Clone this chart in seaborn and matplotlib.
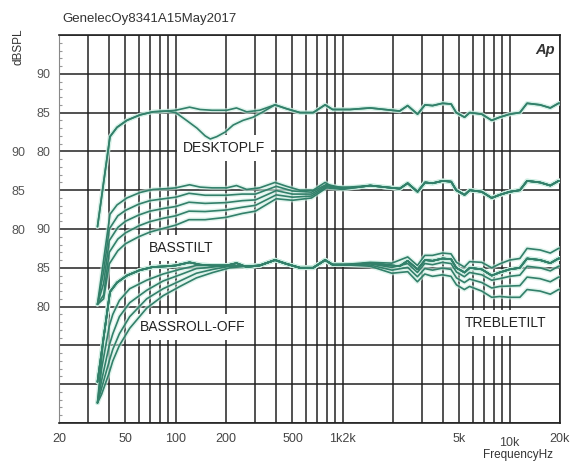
import numpy as np
import pandas as pd
import matplotlib
matplotlib.use("Agg")
import matplotlib.pyplot as plt
import seaborn as sns
from matplotlib.ticker import FixedLocator, NullLocator, MultipleLocator

sns.set_theme(style="white")
plt.rcParams["font.family"] = ["Liberation Sans", "DejaVu Sans"]

# ---------------- data ----------------
# flat (reference) response, dB SPL
FLAT_F = [34, 37, 40.4, 44.5, 51, 61, 73, 88, 100, 121, 140, 165, 202, 231, 266, 318,
          393, 461, 554, 665, 784, 870, 1106, 1461, 1971, 2193, 2447, 2806, 3110, 3452,
          3967, 4461, 4783, 5364, 5765, 6800, 7800, 8700, 10000, 11500, 12700, 15200,
          17500, 19600, 20000]
FLAT_DB = [70.3, 76.0, 81.9, 83.1, 84.0, 84.7, 85.1, 85.2, 85.3, 85.7, 85.4, 85.3, 85.3,
           85.6, 85.1, 85.3, 86.0, 85.5, 85.0, 85.0, 86.0, 85.4, 85.4, 85.6, 85.3, 85.2,
           85.9, 84.8, 86.0, 85.9, 86.2, 86.1, 85.0, 84.4, 85.0, 84.8, 84.0, 84.4, 84.8,
           85.0, 86.2, 86.0, 85.6, 86.2, 86.2]

# desktop LF notch
DESK_F = [100, 116, 134, 150, 161, 176, 198, 221, 253, 290, 327]
DESK_DB = [85.0, 84.0, 83.0, 82.0, 81.6, 81.9, 82.5, 83.4, 84.0, 84.4, 85.0]

# bass tilt
TILT_F = [34, 37, 40, 45, 50, 60, 70, 85, 100, 120, 150, 200, 250, 300, 400, 500, 650,
          800, 1000, 1250]
TILT_1 = [70.3, 74.5, 80.0, 81.7, 82.4, 83.2, 83.65, 83.9, 84.1, 84.6, 84.35, 84.35, 84.5,
          84.5, 85.5, 84.9, 84.75, 85.75, 85.3, 85.4]
TILT_2 = [70.3, 73.0, 78.5, 80.2, 81.0, 81.8, 82.3, 82.65, 82.9, 83.45, 83.3, 83.4, 83.65,
          83.75, 84.95, 84.5, 84.5, 85.6, 85.25, 85.4]
TILT_3 = [70.3, 71.5, 77.0, 78.7, 79.5, 80.4, 80.95, 81.4, 81.7, 82.3, 82.25, 82.45, 82.8,
          83.05, 84.4, 84.1, 84.25, 85.45, 85.2, 85.4]
TILT_4 = [70.3, 71.0, 75.5, 77.2, 78.1, 79.0, 79.6, 80.1, 80.5, 81.2, 81.2, 81.5, 82.0,
          82.3, 83.9, 83.7, 84.0, 85.3, 85.1, 85.4]

# bass roll-off
RO_F = [34, 36, 40, 42, 46, 53, 67, 84, 106, 133, 167, 211, 266]
RO_0 = [67.6]
RO_1 = [67.6, 72.0, 77.5, 79.0, 80.8, 82.3, 83.4, 84.2, 84.8, 85.3, 85.3, 85.3, 85.2]
RO_2 = [67.6, 70.5, 75.0, 76.5, 78.7, 80.5, 82.1, 83.3, 84.1, 84.9, 85.1, 85.3, 85.2]
RO_3 = [67.6, 69.5, 73.0, 74.5, 76.5, 78.7, 81.0, 82.3, 83.3, 84.3, 84.8, 85.2, 85.2]
RO_4 = [67.6, 68.7, 71.5, 73.0, 75.0, 77.2, 79.8, 81.4, 82.6, 83.7, 84.4, 85.0, 85.2]

# treble tilt
TT_F = [1000, 1460, 1970, 2450, 2800, 3100, 3450, 3950, 4450, 4800, 5350, 5750, 6800,
        7800, 8700, 10000, 11500, 12700, 15200, 17500, 19600, 20000]
TT_1 = [85.4, 85.7, 85.6, 86.4, 85.3, 86.6, 86.6, 86.9, 86.8, 85.7, 85.1, 85.8, 85.7, 85.0,
        85.5, 86.0, 86.2, 87.5, 87.3, 86.9, 87.5, 87.5]
TT_2 = [85.4, 85.5, 85.05, 85.55, 84.4, 85.55, 85.4, 85.7, 85.55, 84.45, 83.85, 84.4, 84.1,
        83.4, 83.6, 83.9, 84.05, 85.2, 85.0, 84.6, 85.2, 85.2]
TT_3 = [85.4, 85.35, 84.7, 85.05, 83.85, 84.9, 84.7, 84.95, 84.8, 83.7, 83.1, 83.55, 83.1,
        82.4, 82.6, 82.65, 82.7, 83.8, 83.6, 83.2, 83.8, 83.8]
TT_4 = [85.4, 85.2, 84.3, 84.5, 83.2, 84.2, 83.9, 84.1, 83.9, 82.8, 82.2, 82.6, 82.0,
        81.2, 81.3, 81.2, 81.2, 82.2, 82.0, 81.6, 82.2, 82.2]

X_TICKS = [20, 30, 40, 50, 60, 70, 80, 90, 100, 200, 300, 400, 500, 600, 700, 800, 900,
           1000, 2000, 3000, 4000, 5000, 6000, 7000, 8000, 9000, 10000, 20000]
X_LABELS = {20: "20", 50: "50", 100: "100", 200: "200", 500: "500", 1000: "1k2k",
            5000: "5k", 10000: "10k", 20000: "20k"}
Y_GRID = [45, 50, 55, 60, 65, 70, 75, 80, 85, 90, 95]
Y_LABELS = {90: "90", 85: "85", 80: "80", 70: "90", 65: "85", 60: "80"}
MID_TICKS = [90, 85, 80]

TITLE = "GenelecOy8341A15May2017"


def with_flat(seg_f, seg_v):
    lo = [(f, v) for f, v in zip(FLAT_F, FLAT_DB) if f < seg_f[0]]
    hi = [(f, v) for f, v in zip(FLAT_F, FLAT_DB) if f > seg_f[-1]]
    pts = lo + list(zip(seg_f, seg_v)) + hi
    return [p[0] for p in pts], [p[1] for p in pts]


curves = {
    "top": {"flat": (FLAT_F, FLAT_DB), "desk": with_flat(DESK_F, DESK_DB)},
    "mid": {"flat": (FLAT_F, FLAT_DB),
            "t1": with_flat(TILT_F, TILT_1), "t2": with_flat(TILT_F, TILT_2),
            "t3": with_flat(TILT_F, TILT_3), "t4": with_flat(TILT_F, TILT_4)},
    "bot": {"flat": with_flat(RO_F[:1], RO_0),
            "r1": with_flat(RO_F, RO_1), "r2": with_flat(RO_F, RO_2),
            "r3": with_flat(RO_F, RO_3), "r4": with_flat(RO_F, RO_4),
            "tt1": with_flat(TT_F, TT_1), "tt2": with_flat(TT_F, TT_2),
            "tt3": with_flat(TT_F, TT_3), "tt4": with_flat(TT_F, TT_4)},
}
rows = []
for g, cs in curves.items():
    for name, (fs, vs) in cs.items():
        for f, v in zip(fs, vs):
            rows.append((g, g + name, f, v))
df = pd.DataFrame(rows, columns=["group", "curve", "freq", "db"])

# ---------------- figure ----------------
W, H = 573, 465
fig = plt.figure(figsize=(W / 100, H / 100), dpi=100)
L, R, T, B = 59, 560, 35, 423
rect = [L / W, 1 - B / H, (R - L) / W, (B - T) / H]

GRID_C = "#222222"
LINE_C = "#32806a"
GLOW_C = "#cdeee2"
TXT_C = "#333333"

ax = fig.add_axes(rect)
ax.set_xscale("log")
ax.set_xlim(20, 20000)
ax.set_ylim(45, 95)
ax.xaxis.set_major_locator(FixedLocator(X_TICKS))
ax.xaxis.set_minor_locator(NullLocator())
ax.set_xticklabels([X_LABELS.get(t, "") for t in X_TICKS])
ax.yaxis.set_major_locator(FixedLocator(Y_GRID))
ax.yaxis.set_minor_locator(MultipleLocator(1))
ax.set_yticklabels([Y_LABELS.get(t, "") for t in Y_GRID])
ax.grid(True, which="major", color=GRID_C, lw=1.1)
ax.set_axisbelow(True)
ax.tick_params(axis="x", which="major", length=0, pad=7, labelsize=9, labelcolor="#444444")
ax.tick_params(axis="y", which="major", length=0, pad=6.5, labelsize=9, labelcolor="#555555")
ax.tick_params(axis="y", which="minor", left=True, length=2.5, width=0.8, color="#999999",
               direction="in")
for s in ["top", "right", "bottom"]:
    ax.spines[s].set_color(GRID_C)
    ax.spines[s].set_linewidth(1.2)
ax.spines["left"].set_color("#888888")
ax.spines["left"].set_linewidth(0.8)
for lab in ax.get_xticklabels():
    if lab.get_text() == "10k":
        lab.set_y(-0.01)

limits = {"top": (45, 95), "mid": (55, 105), "bot": (65, 115)}
axes = {}
for g, (lo, hi) in limits.items():
    a = fig.add_axes(rect)
    a.set_facecolor("none")
    a.set_xscale("log")
    sub = df[df.group == g]
    sns.lineplot(data=sub, x="freq", y="db", units="curve", estimator=None, sort=False,
                 color=GLOW_C, lw=3.2, alpha=0.6, ax=a, legend=False)
    sns.lineplot(data=sub, x="freq", y="db", units="curve", estimator=None, sort=False,
                 color=LINE_C, lw=1.2, ax=a, legend=False)
    a.set_xlim(20, 20000)
    a.set_ylim(lo, hi)
    a.set_xlabel("")
    a.set_ylabel("")
    for s in a.spines.values():
        s.set_visible(False)
    a.tick_params(axis="x", which="both", bottom=False, labelbottom=False)
    a.xaxis.set_minor_locator(NullLocator())
    if g == "mid":
        a.yaxis.set_major_locator(FixedLocator(MID_TICKS))
        a.yaxis.set_minor_locator(NullLocator())
        a.set_yticklabels([str(t) for t in MID_TICKS])
        a.tick_params(axis="y", length=0, pad=24.5, labelsize=9, labelcolor="#555555")
    else:
        a.set_yticks([])
    a.grid(False)
    axes[g] = a

box = dict(facecolor="white", edgecolor="none", boxstyle="square,pad=0.4")
for txt, px, py in [("DESKTOPLF", 224, 148), ("BASSTILT", 181, 248),
                    ("BASSROLL-OFF", 193, 327), ("TREBLETILT", 506, 323)]:
    ax.text((px - L) / (R - L), (B - py) / (B - T), txt, transform=ax.transAxes,
            ha="center", va="center", fontsize=10, color="#222222", bbox=box, zorder=3)

fig.text(62 / W, 1 - 19 / H, TITLE, ha="left", va="center", fontsize=9.5, color=TXT_C)
fig.text(19 / W, 1 - 47 / H, "dBSPL", rotation=90, ha="center", va="center",
         fontsize=8.5, color=TXT_C)
fig.text(553 / W, 1 - 455 / H, "FrequencyHz", ha="right", va="center", fontsize=8.5,
         color=TXT_C)
fig.text(545 / W, 1 - 50 / H, "Ap", ha="center", va="center", fontsize=10.5,
         fontweight="bold", style="italic", color="#333333")

fig.savefig("out.png", dpi=100)
